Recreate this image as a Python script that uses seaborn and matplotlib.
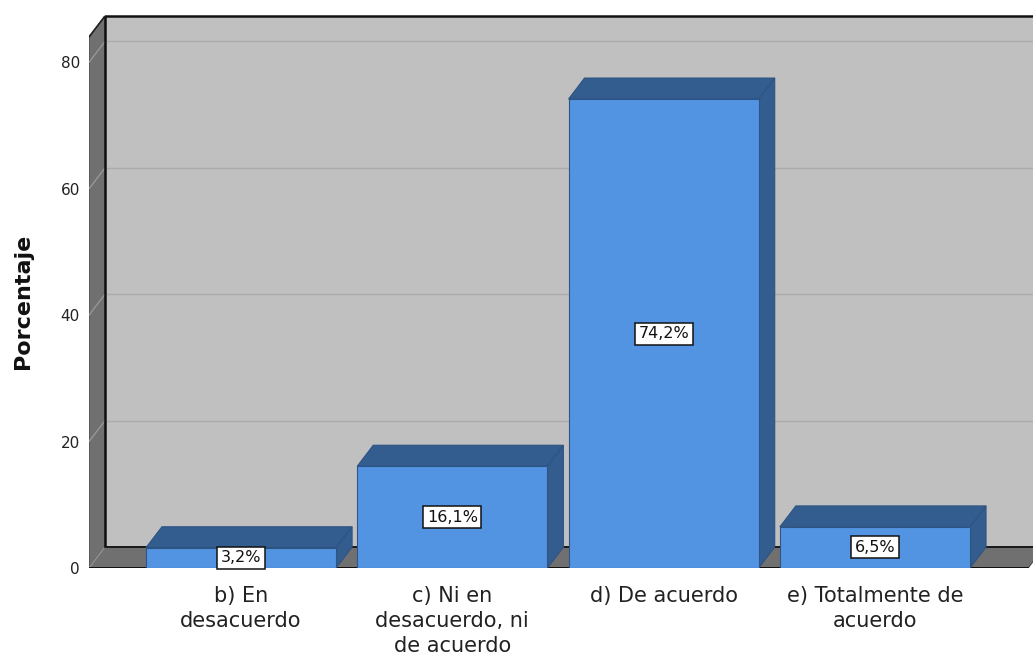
import matplotlib
matplotlib.use("Agg")
import matplotlib.pyplot as plt
from matplotlib.patches import Polygon
import seaborn as sns

# Survey answers and their percentages
categories = [
    "b) En\ndesacuerdo",
    "c) Ni en\ndesacuerdo, ni\nde acuerdo",
    "d) De acuerdo",
    "e) Totalmente de\nacuerdo",
]
percentages = [3.2, 16.1, 74.2, 6.5]
y_ticks = [0, 20, 40, 60, 80]
y_label = "Porcentaje"

# Palette
FRONT = "#5294E2"
SHADE = "#335C8F"
BAR_EDGE = "#2E5483"
BACK_WALL = "#C0C0C0"
SIDE_WALL = "#707070"
GRID = "#ABABAB"
GRID_ON_DARK = "#9A9A9A"

sns.set_style("white")
plt.rcParams["font.family"] = ["DejaVu Sans"]

W, H = 1033, 661
fig = plt.figure(figsize=(W / 100, H / 100), dpi=100)
ax = fig.add_axes([89 / W, 93 / H, 944 / W, 552 / H])

sns.barplot(x=categories, y=percentages, color=FRONT, saturation=1, width=0.9,
            edgecolor=BAR_EDGE, linewidth=0.8, zorder=5, ax=ax)

# Plot frame: category spacing and value range
x0, x1 = -0.7194, 3.748
y0, y1 = 0.0, 87.34
ax.set_xlim(x0, x1)
ax.set_ylim(y0, y1)

# Depth of the pseudo-3D box, expressed in data units (16 px right, 21 px up)
DX = 16 / (944 / (x1 - x0))
DY = 21 / (552 / (y1 - y0))
floor_end = 3.725

# Back wall
ax.add_patch(Polygon([(x0 + DX, DY), (x1 + 1, DY), (x1 + 1, y1), (x0 + DX, y1)],
                     closed=True, facecolor=BACK_WALL, edgecolor="none", zorder=0))
# Left wall
ax.add_patch(Polygon([(x0, 0), (x0, y1 - DY), (x0 + DX, y1), (x0 + DX, DY)],
                     closed=True, facecolor=SIDE_WALL, edgecolor="#4A4A4A",
                     linewidth=0.8, zorder=1))
# Floor
ax.add_patch(Polygon([(x0, 0), (floor_end, 0), (floor_end + DX, DY), (x0 + DX, DY)],
                     closed=True, facecolor=SIDE_WALL, edgecolor="#4A4A4A",
                     linewidth=0.8, zorder=1))

# Gridlines on the back wall and their continuation across the left wall
for v in y_ticks[1:]:
    ax.plot([x0 + DX, x1 + 1], [v + DY, v + DY], color=GRID, lw=1.0, zorder=0.5)
for v in y_ticks:
    ax.plot([x0, x0 + DX], [v, v + DY], color=GRID_ON_DARK, lw=0.9, zorder=1.5)

# Heavy outline of the box
ax.plot([x0 + DX, x0 + DX], [DY, y1], color="#111111", lw=1.8, zorder=2,
        solid_capstyle="butt")
ax.plot([x0 + DX, x1 + 1], [y1, y1], color="#111111", lw=1.8, zorder=2, clip_on=False)
ax.plot([x0 + DX, x1 + 1], [DY, DY], color="#1A1A1A", lw=1.4, zorder=2)
ax.plot([x0, floor_end], [0, 0], color="#111111", lw=1.4, zorder=2)
ax.plot([x0, x0 + DX], [y1 - DY, y1], color="#222222", lw=1.2, zorder=2)

# Top and side faces for every bar
for p in ax.patches[:]:
    if p.get_zorder() != 5:
        continue
    bx, bw, bh = p.get_x(), p.get_width(), p.get_height()
    top = Polygon([(bx, bh), (bx + bw, bh), (bx + bw + DX, bh + DY), (bx + DX, bh + DY)],
                  closed=True, facecolor=SHADE, edgecolor=BAR_EDGE, linewidth=0.8, zorder=4)
    side = Polygon([(bx + bw, 0), (bx + bw + DX, DY), (bx + bw + DX, bh + DY), (bx + bw, bh)],
                   closed=True, facecolor=SHADE, edgecolor=BAR_EDGE, linewidth=0.8, zorder=4)
    ax.add_patch(top)
    ax.add_patch(side)

# Value labels in white boxes
ax.bar_label(ax.containers[0],
             labels=[f"{v:.1f}%".replace(".", ",") for v in percentages],
             label_type="center", fontsize=11.5, color="#111111", zorder=6,
             bbox=dict(boxstyle="square,pad=0.22", facecolor="white",
                       edgecolor="#111111", linewidth=1.1))

for s in ax.spines.values():
    s.set_visible(False)
ax.grid(False)
ax.patch.set_alpha(0)

ax.set_yticks(y_ticks)
ax.set_yticklabels([str(t) for t in y_ticks])
ax.tick_params(axis="y", length=0, pad=6.5, labelsize=11, labelcolor="#222222")
ax.tick_params(axis="x", length=0, pad=13, labelsize=15, labelcolor="#222222")
for lbl in ax.get_xticklabels():
    lbl.set_linespacing(1.32)
    lbl.set_ha("center")

ax.set_xlabel("")
ax.set_ylabel(y_label, fontsize=16, fontweight="bold", color="#111111")
ax.yaxis.set_label_coords((33 - 89) / 944, (568 - 301) / 552)

fig.savefig("out.png", dpi=100)
